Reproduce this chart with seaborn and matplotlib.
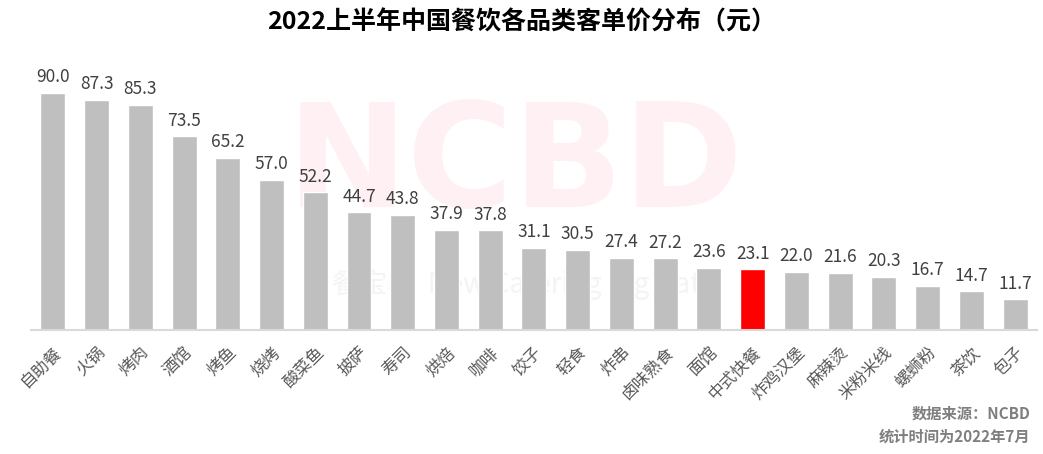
import matplotlib
matplotlib.use("Agg")
import matplotlib.pyplot as plt
import seaborn as sns

categories = ["自助餐", "火锅", "烤肉", "酒馆", "烤鱼", "烧烤", "酸菜鱼", "披萨", "寿司", "烘焙",
              "咖啡", "饺子", "轻食", "炸串", "卤味熟食", "面馆", "中式快餐", "炸鸡汉堡", "麻辣烫",
              "米粉米线", "螺蛳粉", "茶饮", "包子"]
prices = [90.0, 87.3, 85.3, 73.5, 65.2, 57.0, 52.2, 44.7, 43.8, 37.9,
          37.8, 31.1, 30.5, 27.4, 27.2, 23.6, 23.1, 22.0, 21.6,
          20.3, 16.7, 14.7, 11.7]
highlight = "中式快餐"

sns.set_style("white")
plt.rcParams["font.family"] = ["Noto Sans CJK SC", "DejaVu Sans"]

colors = ["#ff0000" if c == highlight else "#bfbfbf" for c in categories]

fig = plt.figure(figsize=(10.43, 4.54), dpi=100)
ax = fig.add_axes([0.0297, 0.273, 0.9645, 0.581])
ax.set_zorder(1)
ax.patch.set_visible(False)

sns.barplot(x=categories, y=prices, hue=categories, palette=colors, legend=False,
            width=0.57, saturation=1, ax=ax)

for i, v in enumerate(prices):
    ax.text(i, v + 2.5, f"{v:.1f}", ha="center", va="bottom", fontsize=12.5, color="#404040")

ax.set_ylim(0, 100)
ax.set_xlim(-0.5, len(categories) - 0.5)
ax.set_yticks([])
ax.set_ylabel("")
for s in ["top", "right", "left"]:
    ax.spines[s].set_visible(False)
ax.spines["bottom"].set_color("#d9d9d9")
ax.spines["bottom"].set_linewidth(1.5)
ax.tick_params(axis="x", length=0, pad=10)
plt.setp(ax.get_xticklabels(), rotation=45, ha="right", rotation_mode="anchor",
         fontsize=12, color="#595959")

# watermark
fig.text(0.494, 0.478, "NCBD", ha="center", va="bottom", fontsize=104, fontweight="bold",
         color="#fff0f3", family=["DejaVu Sans"], zorder=0)
fig.text(0.503, 0.34, "餐宝典  New Catering Big Data", ha="center", va="bottom", fontsize=20,
         color="#f4f4f4", zorder=0)

fig.text(0.5, 0.95, "2022上半年中国餐饮各品类客单价分布（元）", ha="center", va="center",
         fontsize=18, fontweight="bold", color="black")
fig.text(0.988, 0.088, "数据来源：NCBD", ha="right", va="center", fontsize=11,
         fontweight="bold", color="#7f7f7f")
fig.text(0.988, 0.038, "统计时间为2022年7月", ha="right", va="center", fontsize=11,
         fontweight="bold", color="#7f7f7f")

fig.savefig("out.png", dpi=100)
